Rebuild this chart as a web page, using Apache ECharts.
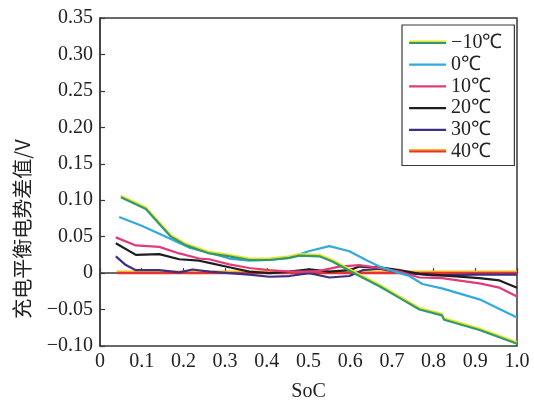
<!DOCTYPE html>
<html>
<head>
<meta charset="utf-8">
<script src="https://cdn.jsdelivr.net/npm/echarts@6/dist/echarts.min.js"></script>
<style>
  html, body { margin: 0; padding: 0; background: #fff; }
  #chart { width: 534px; height: 407px; }
</style>
</head>
<body>
<div id="chart"></div>
<script>
// State of charge (x) and charge equilibrium potential difference (V) per temperature
const socM10 = [0.05, 0.11, 0.146, 0.17, 0.206, 0.262, 0.31, 0.358, 0.406, 0.454, 0.478, 0.526, 0.557, 0.622, 0.67, 0.718, 0.766, 0.82, 0.825, 0.91, 1.0];
const dvM10  = [0.104, 0.088, 0.065, 0.050, 0.038, 0.027, 0.023, 0.018, 0.018, 0.021, 0.024, 0.023, 0.016, -0.004, -0.018, -0.034, -0.050, -0.058, -0.064, -0.078, -0.097];

const soc0 = [0.046, 0.10, 0.158, 0.214, 0.262, 0.31, 0.358, 0.406, 0.454, 0.50, 0.55, 0.598, 0.638, 0.67, 0.718, 0.742, 0.773, 0.82, 0.91, 1.0];
const dv0  = [0.077, 0.065, 0.050, 0.035, 0.028, 0.020, 0.017, 0.018, 0.021, 0.030, 0.037, 0.030, 0.018, 0.009, 0.000, -0.004, -0.015, -0.021, -0.036, -0.061];

const soc10 = [0.038, 0.086, 0.142, 0.19, 0.238, 0.262, 0.31, 0.358, 0.406, 0.454, 0.502, 0.526, 0.574, 0.622, 0.67, 0.718, 0.766, 0.82, 0.91, 0.958, 1.0];
const dv10  = [0.049, 0.038, 0.036, 0.027, 0.020, 0.019, 0.012, 0.007, 0.004, 0.002, 0.002, 0.003, 0.009, 0.011, 0.007, 0.002, -0.006, -0.007, -0.014, -0.020, -0.032];

const soc20 = [0.038, 0.086, 0.142, 0.19, 0.238, 0.262, 0.31, 0.358, 0.406, 0.454, 0.502, 0.55, 0.598, 0.622, 0.67, 0.718, 0.766, 0.82, 0.91, 0.958, 1.0];
const dv20  = [0.041, 0.025, 0.026, 0.019, 0.017, 0.014, 0.008, 0.002, 0.000, 0.002, 0.005, 0.002, 0.004, 0.009, 0.008, 0.004, -0.001, -0.003, -0.007, -0.010, -0.020];

const soc30 = [0.038, 0.062, 0.086, 0.142, 0.19, 0.222, 0.262, 0.31, 0.358, 0.406, 0.454, 0.502, 0.55, 0.598, 0.63, 0.67, 0.718, 0.80, 0.90, 1.0];
const dv30  = [0.023, 0.011, 0.004, 0.004, 0.001, 0.005, 0.002, 0.000, -0.002, -0.005, -0.004, 0.000, -0.006, -0.004, 0.004, 0.006, 0.001, -0.003, -0.002, -0.002];

const soc40 = [0.04, 1.0];
const dv40  = [0.0, 0.0];

const seriesNames = ['\u221210\u2103', '0\u2103', '10\u2103', '20\u2103', '30\u2103', '40\u2103'];

const xTicks = { min: 0, max: 1.0, interval: 0.1 };
const yTicks = { min: -0.10, max: 0.35, interval: 0.05 };

function pairs(xs, ys) {
  return xs.map((x, i) => [x, ys[i]]);
}

const serif = '"Liberation Serif", "Times New Roman", serif';
const axisColor = '#3a3a3a';

// Colours: main stroke, plus an optional thin offset edge in a second colour
const styles = [
  { color: '#2f9a6e', edge: '#e6e324', off: -1.5 },
  { color: '#33a9dc', edge: null, off: 0 },
  { color: '#e23b7c', edge: null, off: 0 },
  { color: '#1e1e1e', edge: null, off: 0 },
  { color: '#3b2f86', edge: null, off: 0 },
  { color: '#e8322e', edge: '#f2b21e', off: -1.5 }
];

function strokeOf(i) {
  const s = styles[i];
  const ls = { color: s.color, width: 2.2 };
  if (s.edge) {
    ls.shadowColor = s.edge;
    ls.shadowBlur = 0;
    ls.shadowOffsetX = 0;
    ls.shadowOffsetY = s.off;
  }
  return ls;
}

function curve(i, xs, ys) {
  return {
    name: seriesNames[i],
    type: 'line',
    data: pairs(xs, ys),
    showSymbol: false,
    symbol: 'none',
    smooth: false,
    lineStyle: strokeOf(i),
    itemStyle: { color: styles[i].color },
    emphasis: { disabled: true }
  };
}

const chart = echarts.init(document.getElementById('chart'), null, { renderer: 'canvas' });

chart.setOption({
  backgroundColor: '#ffffff',
  animation: false,
  grid: {
    left: 100, right: 17, top: 18, bottom: 58,
    show: true, borderColor: axisColor, borderWidth: 1.5, backgroundColor: 'transparent'
  },
  legend: {
    orient: 'vertical',
    left: 402, top: 25,
    padding: [8, 12, 4, 6],
    itemWidth: 37, itemHeight: 14, itemGap: 1.7,
    backgroundColor: '#ffffff',
    borderColor: axisColor, borderWidth: 1.2,
    itemStyle: { opacity: 0 },
    data: seriesNames.map((n, i) => ({ name: n, lineStyle: strokeOf(i) })),
    textStyle: { fontFamily: serif, fontSize: 20, color: '#222' }
  },
  xAxis: {
    type: 'value',
    min: xTicks.min, max: xTicks.max, interval: xTicks.interval,
    name: 'SoC', nameLocation: 'middle', nameGap: 36,
    nameTextStyle: { fontFamily: serif, fontSize: 20, color: '#222' },
    axisLine: { show: true, lineStyle: { color: axisColor, width: 1.5 } },
    axisTick: { show: true, inside: true, length: 5, lineStyle: { color: axisColor, width: 1.2 } },
    splitLine: { show: false },
    axisLabel: {
      fontFamily: serif, fontSize: 20, color: '#222', margin: 6,
      formatter: v => (Math.abs(v) < 1e-9 ? '0' : v.toFixed(1))
    }
  },
  yAxis: {
    type: 'value',
    min: yTicks.min, max: yTicks.max, interval: yTicks.interval,
    name: '充电平衡电势差值/V', nameLocation: 'middle', nameGap: 68, nameRotate: 90,
    nameTextStyle: {
      fontFamily: '"Noto Sans CJK SC", "Liberation Serif", serif', fontSize: 20, color: '#222',
      padding: [0, 94, 0, 0]
    },
    axisLine: { show: true, lineStyle: { color: axisColor, width: 1.5 } },
    axisTick: { show: true, inside: true, length: 5, lineStyle: { color: axisColor, width: 1.2 } },
    splitLine: { show: false },
    axisLabel: {
      fontFamily: serif, fontSize: 20, color: '#222', margin: 7,
      formatter: v => {
        if (Math.abs(v) < 1e-9) return '0';
        const s = Math.abs(v).toFixed(2);
        return v < 0 ? '\u2212' + s : s;
      }
    }
  },
  series: [
    curve(5, soc40, dv40),
    curve(4, soc30, dv30),
    curve(3, soc20, dv20),
    curve(2, soc10, dv10),
    curve(1, soc0, dv0),
    curve(0, socM10, dvM10)
  ]
});
</script>
</body>
</html>
